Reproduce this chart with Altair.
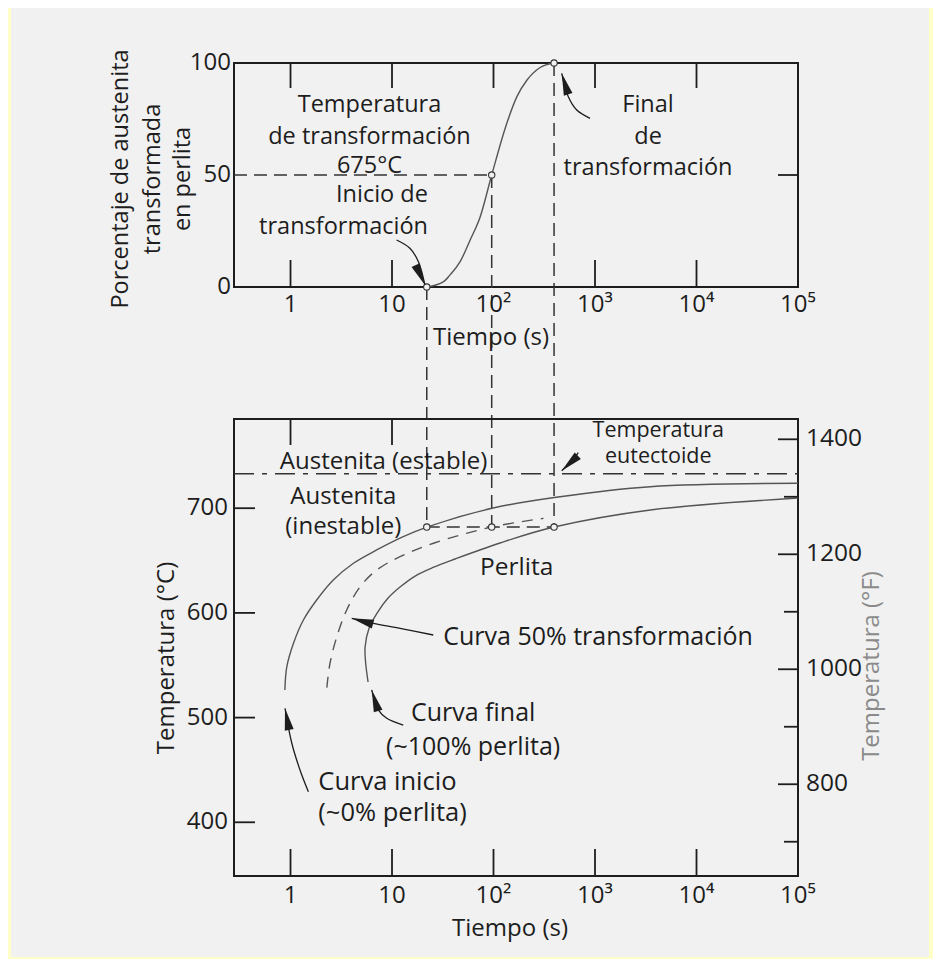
import altair as alt
import pandas as pd

# ================= values =================
time_ticks = [1, 10, 100, 1000, 10000, 100000]
time_labels = ["1", "10", "10²", "10³", "10⁴", "10⁵"]
top_edge_ticks_a = [1, 10, 100, 1000, 10000]      # upper panel, top edge
top_edge_ticks_b = [1, 10, 1000, 10000]           # upper panel, bottom edge
bot_edge_ticks_a = [1, 10]                        # lower panel, top edge
bot_edge_ticks_b = [1, 10, 100, 1000, 10000]      # lower panel, bottom edge
pct_ticks = [0, 50, 100]
pct_labels = ["0", "50", "100"]
c_ticks = [400, 500, 600, 700]
f_major = [800, 1000, 1200, 1400]
f_minor = [700, 900, 1100, 1300]

# upper panel: % austenite transformed vs time at constant temperature
sig_t = [22.1, 32.2, 37.3, 46.9, 58.9, 74.0, 96.0, 135, 170, 214, 288, 395]
sig_p = [0, 2.4, 5.4, 11.3, 21.0, 31.4, 50.0, 73.0, 85.0, 92.4, 98.0, 100]
key_t = [22, 96, 395]
key_p = [0, 50, 100]
iso_T = 682          # transformation temperature line (drawn level)
eut_T = 733          # eutectoid line (drawn level)

# lower panel: TTT curves
start_t = [0.88, 0.92, 1.07, 1.34, 1.81, 2.64, 4.17, 7.07, 12.9, 22.0, 99, 432, 3490, 100000]
start_T = [526.4, 548.6, 571.0, 593.2, 612.3, 631.4, 647.4, 660.1, 672.8, 682.0, 700.2, 710.7, 720.5, 723.8]
mid_t = [2.28, 2.45, 2.86, 3.58, 4.85, 7.08, 12.0, 25.6, 96, 311]
mid_T = [528.6, 551.9, 577.3, 602.8, 625.0, 641.0, 653.7, 666.5, 682.0, 690.3]
end_t = [5.81, 5.49, 5.43, 5.95, 7.13, 9.15, 12.0, 16.9, 25.4, 41.8, 116, 395, 3510, 100000]
end_T = [534.0, 553.1, 567.4, 585.6, 599.9, 614.2, 624.7, 635.2, 643.4, 651.5, 666.8, 682.0, 698.3, 709.7]

# annotation arrows (shaft points, last point = tip)
arr_top_id = ["inicio"] * 4 + ["final"] * 4
arr_top_t = [11.1, 15.0, 18.2, 21.1, 893, 661, 546, 470]
arr_top_v = [21.0, 17.3, 11.3, 0.9, 75.3, 79.0, 84.9, 95.4]
arr_bot_id = ["eut"] * 3 + ["c50"] * 4 + ["cfin"] * 4 + ["cini"] * 4
arr_bot_t = [684, 611, 470, 25.5, 12.0, 6.54, 4.01, 12.9, 8.87, 7.33, 6.31, 1.50, 1.24, 1.03, 0.883]
arr_bot_v = [753.0, 746.5, 735.8, 578.9, 585.3, 590.1, 594.8, 492.9, 499.3, 507.3, 526.4,
             429.2, 450.0, 475.5, 508.9]

# annotation texts
top_c_label = ["Temperatura", "de transformación", "675°C", "Final", "de", "transformación"]
top_c_t = [6.0, 6.0, 6.0, 3330, 3330, 3330]
top_c_v = [81.3, 67.0, 54.0, 81.3, 67.0, 53.1]
top_r_label = ["Inicio de", "transformación"]
top_r_t = [22.6, 22.6]
top_r_v = [41.1, 26.8]
bot_c_label = ["Austenita (estable)", "Austenita", "(inestable)", "Perlita", "Temperatura",
               "eutectoide", "Curva final", "(~100% perlita)"]
bot_c_t = [8.25, 3.31, 3.31, 169, 4204, 4204, 63, 63]
bot_c_v = [744.4, 711.0, 682.3, 642.6, 774.0, 748.6, 504.1, 472.2]
bot_l_label = ["Curva 50% transformación", "Curva inicio", "(~0% perlita)"]
bot_l_t = [32.0, 1.88, 1.88]
bot_l_v = [577.3, 438.8, 408.6]

# ================= layout & style =================
W, H = 564, 813
TOP_RANGE = [224, 0]
BOT_RANGE = [813, 356]
XMIN, XMAX = 0.2775, 100000
C_DOM = [348.7, 785.2]
F_DOM = [640.4, 1435.3]
FONT = "Open Sans"
INK = "#1d1d1d"
CURVE = "#555555"
PAPER = "#f1f1f1"
YELLOW = "#ffffc8"
head_top_ang = [155, 343]
head_bot_ang = [227, 285, 343, 349]
HEAD = "M0,0L0.45,2.2L-0.45,2.2Z"
top_c_fs = [23.5, 23.5, 23.5, 23.5, 23.5, 23.5]
top_r_fs = [23.5, 23.5]
bot_c_fs = [24, 24, 24, 24.5, 21.5, 21.5, 25, 25]
bot_l_fs = [25, 25.5, 25.5]

xs = alt.Scale(type="log", domain=[XMIN, XMAX], range=[0, W], nice=False)
ys_top = alt.Scale(domain=[0, 100], range=TOP_RANGE, nice=False, zero=False)
ys_c = alt.Scale(domain=C_DOM, range=BOT_RANGE, nice=False, zero=False)
ys_f = alt.Scale(domain=F_DOM, range=BOT_RANGE, nice=False, zero=False)

iso_px = BOT_RANGE[0] + (iso_T - C_DOM[0]) / (C_DOM[1] - C_DOM[0]) * (BOT_RANGE[1] - BOT_RANGE[0])


def X(f="t"):
    return alt.X(f"{f}:Q", scale=xs, axis=None)


def Y(scale, f="v"):
    return alt.Y(f"{f}:Q", scale=scale, axis=None)


def FS():
    return alt.Size("fs:Q", scale=None, legend=None)


def df(**kw):
    return pd.DataFrame(kw)


def with_order(ids):
    out, cnt = [], {}
    for k in ids:
        out.append(cnt.get(k, 0))
        cnt[k] = cnt.get(k, 0) + 1
    return out


one = df(a=[0])

# ---------------- upper panel ----------------
background = alt.Chart(one).mark_rect(color=PAPER).encode(
    x=alt.value(-223), x2=alt.value(695), y=alt.value(-55), y2=alt.value(894))

top_frame = alt.Chart(df(t=[XMIN], t2=[XMAX], v=[0], v2=[100])).mark_rect(
    fillOpacity=0, stroke=INK, strokeWidth=2).encode(
    x=X(), x2="t2:Q", y=Y(ys_top), y2="v2:Q")

top_ticks_a = alt.Chart(df(t=top_edge_ticks_a)).mark_rule(color=INK, strokeWidth=1.8).encode(
    x=X(), y=alt.value(0), y2=alt.value(25))
top_ticks_b = alt.Chart(df(t=top_edge_ticks_b)).mark_rule(color=INK, strokeWidth=1.8).encode(
    x=X(), y=alt.value(224), y2=alt.value(197))
top_tick_r = alt.Chart(df(v=[50])).mark_rule(color=INK, strokeWidth=1.8).encode(
    x=alt.value(W - 20), x2=alt.value(W), y=Y(ys_top))

sig = alt.Chart(df(t=sig_t, v=sig_p)).mark_line(
    color=CURVE, strokeWidth=1.4, interpolate="monotone").encode(x=X(), y=Y(ys_top))

half_line = alt.Chart(df(t=[XMIN], t2=[key_t[1]], v=[50])).mark_rule(
    color="#333333", strokeWidth=1.5, strokeDash=[13, 7]).encode(x=X(), x2="t2:Q", y=Y(ys_top))

verticals = alt.Chart(df(t=key_t, v=key_p)).mark_rule(
    color="#333333", strokeWidth=1.5, strokeDash=[13, 7]).encode(
    x=X(), y=Y(ys_top), y2=alt.value(iso_px))

top_pts = alt.Chart(df(t=key_t, v=key_p)).mark_point(
    shape="circle", size=40, filled=True, fill=PAPER, stroke="#333333", strokeWidth=1.1, opacity=1).encode(
    x=X(), y=Y(ys_top))

top_arrows = alt.Chart(df(id=arr_top_id, i=with_order(arr_top_id), t=arr_top_t, v=arr_top_v)).mark_line(
    color=INK, strokeWidth=1.3, interpolate="catmull-rom").encode(
    x=X(), y=Y(ys_top), detail="id:N", order="i:Q")

top_heads = alt.Chart(df(t=[arr_top_t[3], arr_top_t[7]], v=[arr_top_v[3], arr_top_v[7]], ang=head_top_ang)).mark_point(
    shape=HEAD, size=400, filled=True, color=INK, opacity=1).encode(
    x=X(), y=Y(ys_top), angle=alt.Angle("ang:Q", scale=None))

top_txt_c = alt.Chart(df(label=top_c_label, t=top_c_t, v=top_c_v, fs=top_c_fs)).mark_text(
    font=FONT, color=INK, align="center", baseline="middle").encode(
    x=X(), y=Y(ys_top), text="label:N", size=FS())
top_txt_r = alt.Chart(df(label=top_r_label, t=top_r_t, v=top_r_v, fs=top_r_fs)).mark_text(
    font=FONT, color=INK, align="right", baseline="middle").encode(
    x=X(), y=Y(ys_top), text="label:N", size=FS())

pct_lab = alt.Chart(df(v=pct_ticks, label=pct_labels)).mark_text(
    font=FONT, fontSize=24, color=INK, align="right", baseline="middle").encode(
    x=alt.value(-3), y=Y(ys_top), text="label:N")

top_time_lab = alt.Chart(df(t=time_ticks, label=time_labels)).mark_text(
    font=FONT, fontSize=24, color=INK, align="center", baseline="middle").encode(
    x=X(), y=alt.value(242), text="label:N")

titles = alt.Chart(df(
    px=[257, 276],
    py=[275, 866],
    label=["Tiempo (s)", "Tiempo (s)"])).mark_text(
    font=FONT, fontSize=24, color=INK, align="center", baseline="middle").encode(
    x=alt.X("px:Q", scale=None), y=alt.Y("py:Q", scale=None), text="label:N")

rot_titles = alt.Chart(df(
    px=[-113, -81, -51, -67],
    py=[116, 116, 116, 595],
    fs=[23.5, 23.5, 23.5, 24],
    label=["Porcentaje de austenita", "transformada", "en perlita", "Temperatura (°C)"])).mark_text(
    font=FONT, color=INK, align="center", baseline="middle", angle=270).encode(
    x=alt.X("px:Q", scale=None), y=alt.Y("py:Q", scale=None), text="label:N", size=FS())

f_title = alt.Chart(df(px=[638], py=[666 - 63], label=["Temperatura (°F)"])).mark_text(
    font=FONT, fontSize=24, color="#8a8a8a", align="center", baseline="middle", angle=270).encode(
    x=alt.X("px:Q", scale=None), y=alt.Y("py:Q", scale=None), text="label:N")

top_group = alt.layer(background, top_frame, top_ticks_a, top_ticks_b, top_tick_r, half_line,
                      verticals, sig, top_pts, top_arrows, top_heads, top_txt_c, top_txt_r,
                      pct_lab, top_time_lab, titles, rot_titles, f_title)

# ---------------- lower panel (°C) ----------------
bot_frame = alt.Chart(df(t=[XMIN], t2=[XMAX], v=[C_DOM[0]], v2=[C_DOM[1]])).mark_rect(
    fillOpacity=0, stroke=INK, strokeWidth=2).encode(
    x=X(), x2="t2:Q", y=Y(ys_c), y2="v2:Q")

bot_ticks_a = alt.Chart(df(t=bot_edge_ticks_a)).mark_rule(color=INK, strokeWidth=1.8).encode(
    x=X(), y=alt.value(356), y2=alt.value(382))
bot_ticks_b = alt.Chart(df(t=bot_edge_ticks_b)).mark_rule(color=INK, strokeWidth=1.8).encode(
    x=X(), y=alt.value(813), y2=alt.value(786))
c_tick_marks = alt.Chart(df(v=c_ticks)).mark_rule(color=INK, strokeWidth=1.8).encode(
    x=alt.value(0), x2=alt.value(21), y=Y(ys_c))

eut = alt.Chart(df(t=[XMIN], t2=[XMAX], v=[eut_T])).mark_rule(
    color="#333333", strokeWidth=1.5, strokeDash=[20, 8, 5, 8]).encode(x=X(), x2="t2:Q", y=Y(ys_c))

start_curve = alt.Chart(df(t=start_t, v=start_T, i=list(range(len(start_t))))).mark_line(
    color=CURVE, strokeWidth=1.4, interpolate="catmull-rom").encode(x=X(), y=Y(ys_c), order="i:Q")
mid_curve = alt.Chart(df(t=mid_t, v=mid_T, i=list(range(len(mid_t))))).mark_line(
    color=CURVE, strokeWidth=1.4, strokeDash=[11, 8], interpolate="catmull-rom").encode(
    x=X(), y=Y(ys_c), order="i:Q")
end_curve = alt.Chart(df(t=end_t, v=end_T, i=list(range(len(end_t))))).mark_line(
    color=CURVE, strokeWidth=1.4, interpolate="catmull-rom").encode(x=X(), y=Y(ys_c), order="i:Q")

iso_line = alt.Chart(df(t=[key_t[0]], t2=[key_t[2]], v=[iso_T])).mark_rule(
    color="#333333", strokeWidth=1.5, strokeDash=[13, 7]).encode(x=X(), x2="t2:Q", y=Y(ys_c))

bot_pts = alt.Chart(df(t=key_t, v=[iso_T] * 3)).mark_point(
    shape="circle", size=40, filled=True, fill=PAPER, stroke="#333333", strokeWidth=1.1, opacity=1).encode(
    x=X(), y=Y(ys_c))

bot_arrows = alt.Chart(df(id=arr_bot_id, i=with_order(arr_bot_id), t=arr_bot_t, v=arr_bot_v)).mark_line(
    color=INK, strokeWidth=1.3, interpolate="catmull-rom").encode(
    x=X(), y=Y(ys_c), detail="id:N", order="i:Q")

tip_idx = [2, 6, 10, 14]
bot_heads = alt.Chart(df(t=[arr_bot_t[k] for k in tip_idx], v=[arr_bot_v[k] for k in tip_idx],
                         ang=head_bot_ang)).mark_point(
    shape=HEAD, size=400, filled=True, color=INK, opacity=1).encode(
    x=X(), y=Y(ys_c), angle=alt.Angle("ang:Q", scale=None))

bot_txt_c = alt.Chart(df(label=bot_c_label, t=bot_c_t, v=bot_c_v, fs=bot_c_fs)).mark_text(
    font=FONT, color=INK, align="center", baseline="middle").encode(
    x=X(), y=Y(ys_c), text="label:N", size=FS())
bot_txt_l = alt.Chart(df(label=bot_l_label, t=bot_l_t, v=bot_l_v, fs=bot_l_fs)).mark_text(
    font=FONT, color=INK, align="left", baseline="middle").encode(
    x=X(), y=Y(ys_c), text="label:N", size=FS())

c_lab = alt.Chart(df(v=c_ticks, label=[str(c) for c in c_ticks])).mark_text(
    font=FONT, fontSize=24, color=INK, align="right", baseline="middle").encode(
    x=alt.value(-6), y=Y(ys_c), text="label:N")

bot_time_lab = alt.Chart(df(t=time_ticks, label=time_labels)).mark_text(
    font=FONT, fontSize=24, color=INK, align="center", baseline="middle").encode(
    x=X(), y=alt.value(833), text="label:N")

c_group = alt.layer(bot_frame, bot_ticks_a, bot_ticks_b, c_tick_marks, eut, iso_line,
                    start_curve, mid_curve, end_curve, bot_pts, bot_arrows, bot_heads,
                    bot_txt_c, bot_txt_l, c_lab, bot_time_lab)

# ---------------- lower panel (°F) ----------------
f_major_marks = alt.Chart(df(v=f_major)).mark_rule(color=INK, strokeWidth=1.8).encode(
    x=alt.value(W - 20), x2=alt.value(W), y=Y(ys_f))
f_minor_marks = alt.Chart(df(v=f_minor)).mark_rule(color=INK, strokeWidth=1.8).encode(
    x=alt.value(W - 14), x2=alt.value(W), y=Y(ys_f))
f_lab = alt.Chart(df(v=f_major, label=[str(f) for f in f_major])).mark_text(
    font=FONT, fontSize=24.5, color=INK, align="left", baseline="middle").encode(
    x=alt.value(W + 8), y=Y(ys_f), text="label:N")

f_group = alt.layer(f_major_marks, f_minor_marks, f_lab)

chart = alt.layer(top_group, c_group, f_group).resolve_scale(y="independent").properties(
    width=W, height=H,
    padding={"left": 226, "top": 55, "right": 135, "bottom": 83},
    autosize=alt.AutoSizeParams(type="none"),
    background=YELLOW,
).configure_view(stroke="transparent")

chart.save("out.html", embed_options={"renderer": "svg", "actions": False})
